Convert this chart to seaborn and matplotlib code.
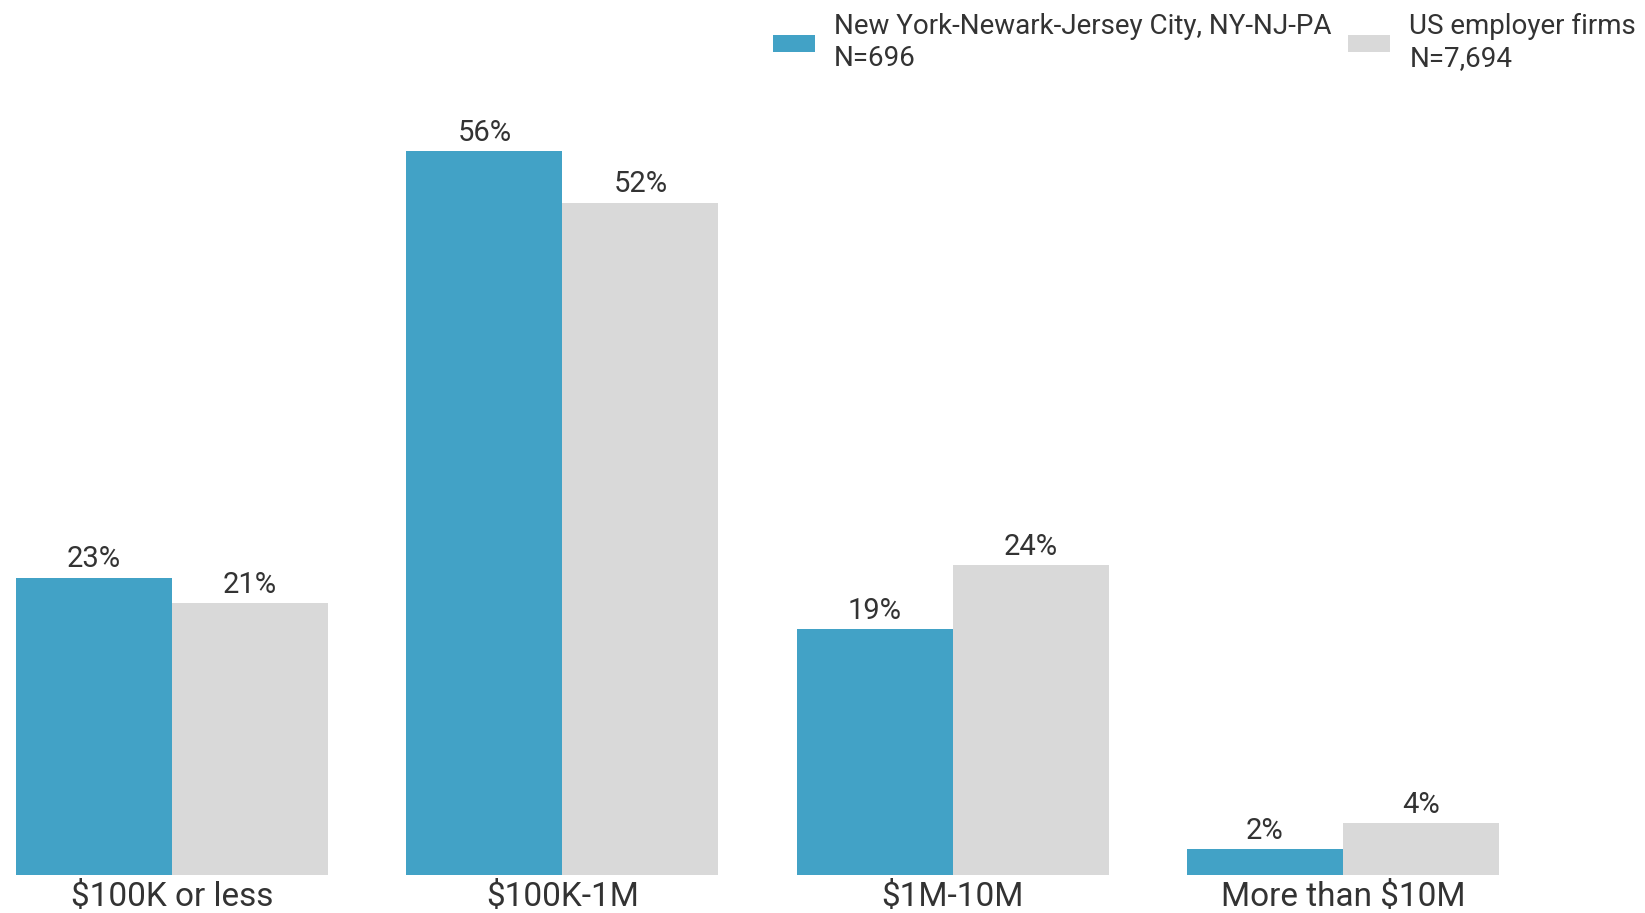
import matplotlib
matplotlib.use("Agg")
import matplotlib.pyplot as plt
import seaborn as sns
import pandas as pd

categories = ["$100K or less", "$100K-1M", "$1M-10M", "More than $10M"]
series_names = ["New York-Newark-Jersey City, NY-NJ-PA\nN=696", "US employer firms\nN=7,694"]
ny_values = [23, 56, 19, 2]
us_values = [21, 52, 24, 4]
colors = ["#42A2C6", "#D9D9D9"]

sns.set_theme(style="white")
plt.rcParams['font.family'] = ['Roboto', 'DejaVu Sans']

df = pd.DataFrame({
    "category": categories * 2,
    "series": [series_names[0]] * 4 + [series_names[1]] * 4,
    "value": ny_values + us_values,
})

W, H = 1645, 913
fig = plt.figure(figsize=(W / 100, H / 100), dpi=100)
ax = fig.add_axes([16 / W, (913 - 875) / H, (1499 - 16) / W, 60 * 12.93 / H])

sns.barplot(data=df, x="category", y="value", hue="series", order=categories,
            hue_order=series_names, palette=colors, width=0.8, saturation=1,
            edgecolor="none", linewidth=0, ax=ax, legend=True)

ax.set_xlim(-0.4, 3.4)
ax.set_ylim(0, 60)
for c in ax.containers:
    ax.bar_label(c, labels=[f"{int(v)}%" for v in c.datavalues], padding=3,
                 fontsize=21, color="#333333")

ax.set_xlabel("")
ax.set_ylabel("")
ax.set_yticks([])
ax.tick_params(axis="x", length=0, pad=4, labelsize=24, labelcolor="#333333")
for s in ax.spines.values():
    s.set_visible(False)

handles, labels = ax.get_legend_handles_labels()
ax.get_legend().remove()
leg = fig.legend(handles, labels, loc="upper left", bbox_to_anchor=(773 / W, 1 - 13 / H),
                 ncol=2, frameon=False, fontsize=20, handlelength=1.5, handleheight=0.55,
                 handletextpad=0.7, columnspacing=0.6, labelcolor="#333333",
                 borderaxespad=0, borderpad=0)
for t in leg.get_texts():
    t.set_linespacing(1.25)

fig.savefig("out.png", dpi=100)
